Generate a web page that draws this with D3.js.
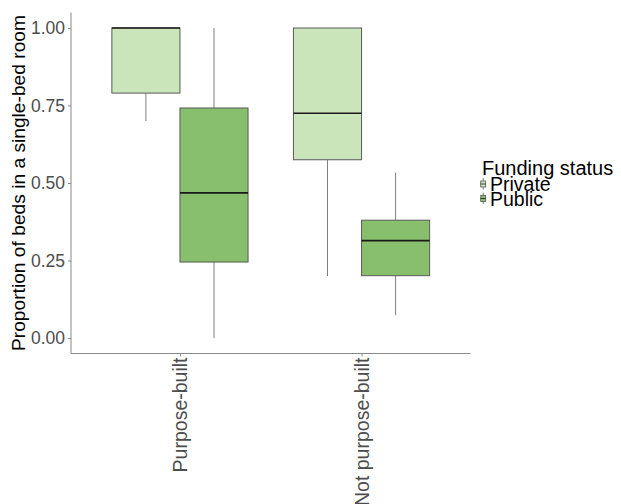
<!DOCTYPE html>
<html>
<head>
<meta charset="utf-8">
<script src="https://cdn.jsdelivr.net/npm/d3@7"></script>
<style>
  body { margin: 0; background: #fff; }
  svg { display: block; font-family: "Liberation Sans", Arial, sans-serif; }
</style>
</head>
<body>
<svg id="chart" width="621" height="504"></svg>
<script>
// ---- data ----
const categories = ["Purpose-built", "Not purpose-built"];
const groups = ["Private", "Public"];
const groupColors = ["#c9e5b9", "#87bf6c"];
// five-number summaries per group, ordered by categories
const privateMin    = [0.70, 0.20];
const privateQ1     = [0.79, 0.575];
const privateMedian = [1.00, 0.725];
const privateQ3     = [1.00, 1.00];
const privateMax    = [1.00, 1.00];
const publicMin     = [0.00, 0.073];
const publicQ1      = [0.245, 0.201];
const publicMedian  = [0.468, 0.314];
const publicQ3      = [0.742, 0.380];
const publicMax     = [1.00, 0.533];
const yTicks = [0, 0.25, 0.5, 0.75, 1.0];
const yTitle = "Proportion of beds in a single-bed room";
const legendTitle = "Funding status";

const stats = [
  { min: privateMin, q1: privateQ1, med: privateMedian, q3: privateQ3, max: privateMax },
  { min: publicMin, q1: publicQ1, med: publicMedian, q3: publicQ3, max: publicMax }
];

const boxes = [];
groups.forEach((gname, gi) => {
  categories.forEach((c, ci) => {
    const s = stats[gi];
    boxes.push({ group: gname, gi, cat: c, min: s.min[ci], q1: s.q1[ci], med: s.med[ci], q3: s.q3[ci], max: s.max[ci] });
  });
});

// ---- layout ----
const svg = d3.select("#chart");
const pLeft = 71, pRight = 470.5, pTop = 12.5, pBottom = 353.5;

const x = d3.scalePoint().domain(categories).range([pLeft, pRight]).padding(0.6);
const step = x.step();
const boxW = 0.375 * step;
const y = d3.scaleLinear().domain([-0.05, 1.05]).range([pBottom, pTop]);

const g = svg.append("g");

// boxes
const bx = d => x(d.cat) + (d.gi === 0 ? -boxW / 2 : boxW / 2);
const bg = g.selectAll("g.box").data(boxes).enter().append("g").attr("class", "box");
bg.append("line")
  .attr("x1", bx).attr("x2", bx)
  .attr("y1", d => y(d.q3)).attr("y2", d => y(d.max))
  .attr("stroke", "#7f7f7f").attr("stroke-width", 1);
bg.append("line")
  .attr("x1", bx).attr("x2", bx)
  .attr("y1", d => y(d.q1)).attr("y2", d => y(d.min))
  .attr("stroke", "#7f7f7f").attr("stroke-width", 1);
bg.append("rect")
  .attr("x", d => bx(d) - boxW / 2).attr("width", boxW)
  .attr("y", d => y(d.q3)).attr("height", d => y(d.q1) - y(d.q3))
  .attr("fill", d => groupColors[d.gi])
  .attr("stroke", "#5a5a5a").attr("stroke-width", 1);
bg.append("line")
  .attr("x1", d => bx(d) - boxW / 2).attr("x2", d => bx(d) + boxW / 2)
  .attr("y1", d => y(d.med)).attr("y2", d => y(d.med))
  .attr("stroke", "#1a1a1a").attr("stroke-width", 1.6);

// y axis
const yAxis = g.append("g").attr("transform", `translate(${pLeft},0)`)
  .call(d3.axisLeft(y).tickValues(yTicks).tickFormat(d3.format(".2f")).tickSize(3).tickPadding(3));
yAxis.select(".domain").remove();
yAxis.selectAll(".tick line").attr("stroke", "#888");
yAxis.selectAll(".tick text").attr("fill", "#4d4d4d").style("font-size", "17.5px");
g.append("line").attr("x1", pLeft).attr("x2", pLeft).attr("y1", pTop).attr("y2", pBottom)
  .attr("stroke", "#888").attr("stroke-width", 1);

// x axis
const xAxis = g.append("g").attr("transform", `translate(0,${pBottom})`)
  .call(d3.axisBottom(x).tickSize(3).tickPadding(3));
xAxis.select(".domain").remove();
xAxis.selectAll(".tick line").attr("stroke", "#888");
xAxis.selectAll(".tick text")
  .attr("fill", "#4d4d4d").style("font-size", "19.5px")
  .attr("transform", "rotate(-90)")
  .attr("text-anchor", "end")
  .attr("x", -4).attr("y", 0).attr("dy", "0.35em");
g.append("line").attr("x1", pLeft).attr("x2", pRight).attr("y1", pBottom).attr("y2", pBottom)
  .attr("stroke", "#888").attr("stroke-width", 1);

// y title
svg.append("text")
  .attr("transform", `translate(25,${(pTop + pBottom) / 2}) rotate(-90)`)
  .attr("text-anchor", "middle")
  .style("font-size", "19.2px").attr("fill", "#000")
  .text(yTitle);

// legend
const lg = svg.append("g");
lg.append("text").attr("x", 482).attr("y", 175).style("font-size", "20px").attr("fill", "#000").text(legendTitle);
const keyY = [184, 198.5];
groups.forEach((name, i) => {
  const cy = keyY[i], cx = 483.2;
  lg.append("line").attr("x1", cx).attr("x2", cx).attr("y1", cy - 6).attr("y2", cy + 5.5)
    .attr("stroke", "#7f7f7f");
  lg.append("rect").attr("x", cx - 2.5).attr("y", cy - 3).attr("width", 5).attr("height", 6)
    .attr("fill", groupColors[i]).attr("stroke", "#5a5a5a").attr("stroke-width", 0.8);
  lg.append("line").attr("x1", cx - 2.5).attr("x2", cx + 2.5).attr("y1", cy).attr("y2", cy)
    .attr("stroke", "#1a1a1a").attr("stroke-width", 0.8);
  lg.append("text").attr("x", 490).attr("y", cy + 7).style("font-size", "19.5px").attr("fill", "#000").text(name);
});
</script>
</body>
</html>
